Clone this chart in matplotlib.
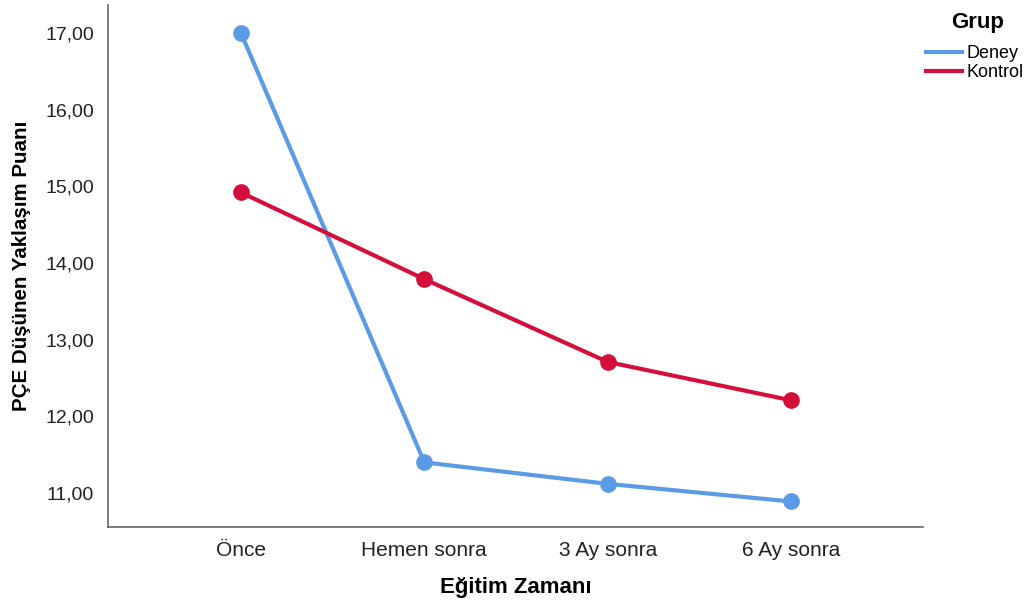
import matplotlib
matplotlib.use('Agg')
import matplotlib.pyplot as plt
from matplotlib.ticker import FuncFormatter

plt.rcParams['font.family'] = ['Liberation Sans', 'DejaVu Sans']

times = ['Önce', 'Hemen sonra', '3 Ay sonra', '6 Ay sonra']
deney = [17.00, 11.40, 11.12, 10.89]
kontrol = [14.92, 13.79, 12.71, 12.21]

fig = plt.figure(figsize=(10.3, 6.03), dpi=100)
ax = fig.add_axes([0.1049, 0.126, 0.7912, 0.8657])

x = range(len(times))
ax.plot(x, deney, color='#5B9BE6', lw=3, marker='o', ms=11, label='Deney')
ax.plot(x, kontrol, color='#D50F3C', lw=3, marker='o', ms=11, label='Kontrol')

ax.set_xlim(-0.725, 3.72)
ax.set_ylim(10.557, 17.365)
ax.set_xticks(list(x))
ax.set_xticklabels(times, fontsize=15)
ax.set_yticks([11, 12, 13, 14, 15, 16, 17])
ax.yaxis.set_major_formatter(FuncFormatter(lambda v, p: f"{v:.2f}".replace('.', ',')))
ax.tick_params(axis='y', labelsize=14)
ax.tick_params(length=0, colors='#222222', pad=10)

for s in ['top', 'right']:
    ax.spines[s].set_visible(False)
for s in ['left', 'bottom']:
    ax.spines[s].set_color('#666666')
    ax.spines[s].set_linewidth(1.2)

ax.set_xlabel('Eğitim Zamanı', fontsize=16, fontweight='bold', labelpad=12)
ax.set_ylabel('PÇE Düşünen Yaklaşım Puanı', fontsize=14.8, fontweight='bold', labelpad=10)

leg = fig.legend(loc='upper left', bbox_to_anchor=(0.899, 0.925), frameon=False,
                 fontsize=13, handlelength=2.0, handletextpad=0.25,
                 labelspacing=0.1, borderpad=0, borderaxespad=0)
for h in leg.legend_handles:
    h.set_marker('')
fig.text(0.949, 0.963, 'Grup', fontsize=16, fontweight='bold', ha='center', va='center')

fig.savefig('out.png', dpi=100)
